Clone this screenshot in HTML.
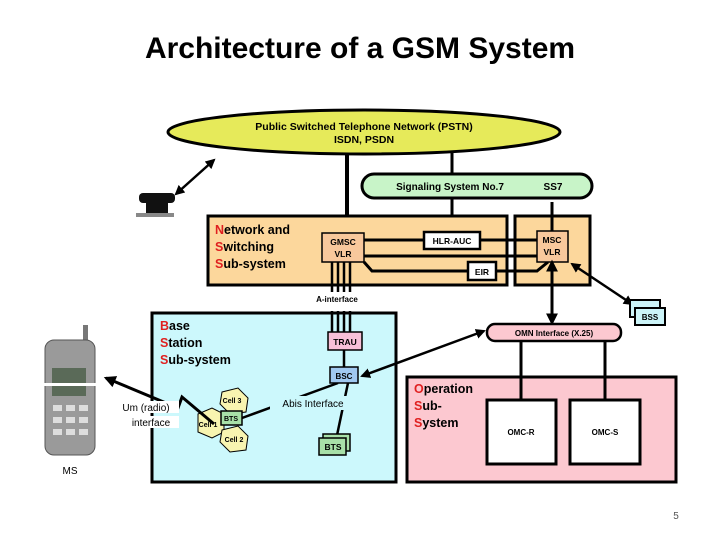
<!DOCTYPE html>
<html><head><meta charset="utf-8"><style>
html,body{margin:0;padding:0;background:#fff;}
svg{display:block;}
text{font-family:"Liberation Sans",sans-serif;font-weight:bold;}
</style></head><body>
<svg width="720" height="540" viewBox="0 0 720 540" xmlns="http://www.w3.org/2000/svg">
<defs>
<marker id="a" viewBox="0 0 10 10" refX="8" refY="5" markerWidth="4" markerHeight="4" orient="auto-start-reverse"><path d="M0,0L10,5L0,10z" fill="#000"/></marker>
</defs>
<text x="360" y="58" text-anchor="middle" font-size="30" fill="#000">Architecture of a GSM System</text>

<line x1="347" y1="150" x2="347" y2="234" stroke="#000" stroke-width="4"/>
<line x1="452" y1="150" x2="452" y2="233" stroke="#000" stroke-width="3"/>

<ellipse cx="364" cy="132" rx="196" ry="22" fill="#e6ea5a" stroke="#000" stroke-width="3"/>
<text x="364" y="130" text-anchor="middle" font-size="10.5">Public Switched Telephone Network (PSTN)</text>
<text x="364" y="143" text-anchor="middle" font-size="10.5">ISDN, PSDN</text>

<rect x="362" y="174" width="230" height="24" rx="12" fill="#c8f4c8" stroke="#000" stroke-width="3"/>
<text x="450" y="190" text-anchor="middle" font-size="10">Signaling System No.7</text>
<text x="553" y="190" text-anchor="middle" font-size="10">SS7</text>

<rect x="208" y="216" width="299" height="69" fill="#fcd79c" stroke="#000" stroke-width="3"/>
<rect x="515" y="216" width="75" height="69" fill="#fcd79c" stroke="#000" stroke-width="3"/>
<text x="215" y="234" font-size="12.5"><tspan fill="#e02020">N</tspan>etwork and</text>
<text x="215" y="251" font-size="12.5"><tspan fill="#e02020">S</tspan>witching</text>
<text x="215" y="268" font-size="12.5"><tspan fill="#e02020">S</tspan>ub-system</text>

<line x1="364" y1="240" x2="537" y2="240" stroke="#000" stroke-width="3"/>
<line x1="364" y1="256" x2="537" y2="256" stroke="#000" stroke-width="3"/>
<polyline points="364,262 372,271 537,271 548,262" fill="none" stroke="#000" stroke-width="3"/>
<line x1="552" y1="202" x2="552" y2="231" stroke="#000" stroke-width="3"/>

<rect x="322" y="233" width="42" height="29" fill="#f8c89c" stroke="#000" stroke-width="1.5"/>
<text x="343" y="245" text-anchor="middle" font-size="8.5">GMSC</text>
<text x="343" y="257" text-anchor="middle" font-size="8.5">VLR</text>
<rect x="424" y="232" width="56" height="17" fill="#fff" stroke="#000" stroke-width="2.5"/>
<text x="452" y="244" text-anchor="middle" font-size="8.5">HLR-AUC</text>
<rect x="468" y="262" width="28" height="18" fill="#fff" stroke="#000" stroke-width="2.5"/>
<text x="482" y="275" text-anchor="middle" font-size="8.5">EIR</text>
<rect x="537" y="231" width="31" height="31" fill="#f8c89c" stroke="#000" stroke-width="1.5"/>
<text x="552" y="243" text-anchor="middle" font-size="8.5">MSC</text>
<text x="552" y="255" text-anchor="middle" font-size="8.5">VLR</text>

<g stroke="#000" stroke-width="2.5">
<line x1="332" y1="262" x2="332" y2="292"/><line x1="338" y1="262" x2="338" y2="292"/>
<line x1="344" y1="262" x2="344" y2="292"/><line x1="350" y1="262" x2="350" y2="292"/>
</g>
<text x="337" y="302" text-anchor="middle" font-size="8">A-interface</text>

<line x1="552" y1="320" x2="552" y2="262" stroke="#000" stroke-width="3" marker-end="url(#a)"/>
<line x1="552" y1="300" x2="552" y2="323" stroke="#000" stroke-width="3" marker-end="url(#a)"/>
<line x1="572" y1="264" x2="632" y2="304" stroke="#000" stroke-width="2.5" marker-start="url(#a)" marker-end="url(#a)"/>
<rect x="630" y="300" width="30" height="17" fill="#ccf4f8" stroke="#000" stroke-width="2"/>
<rect x="635" y="308" width="30" height="17" fill="#ccf4f8" stroke="#000" stroke-width="2"/>
<text x="650" y="320" text-anchor="middle" font-size="8">BSS</text>

<rect x="152" y="313" width="244" height="169" fill="#ccf8fc" stroke="#000" stroke-width="3"/>
<text x="160" y="330" font-size="12.5"><tspan fill="#e02020">B</tspan>ase</text>
<text x="160" y="347" font-size="12.5"><tspan fill="#e02020">S</tspan>tation</text>
<text x="160" y="364" font-size="12.5"><tspan fill="#e02020">S</tspan>ub-system</text>
<g stroke="#000" stroke-width="2.5">
<line x1="332" y1="311" x2="332" y2="332"/><line x1="338" y1="311" x2="338" y2="332"/>
<line x1="344" y1="311" x2="344" y2="332"/><line x1="350" y1="311" x2="350" y2="332"/>
</g>
<line x1="344" y1="350" x2="344" y2="367" stroke="#000" stroke-width="2.5"/>
<rect x="328" y="332" width="34" height="18" fill="#f8c0d8" stroke="#000" stroke-width="1.5"/>
<text x="345" y="345" text-anchor="middle" font-size="8.5">TRAU</text>
<line x1="338" y1="383" x2="242" y2="418" stroke="#000" stroke-width="2.5"/>
<line x1="348" y1="383" x2="336" y2="440" stroke="#000" stroke-width="2.5"/>
<rect x="330" y="367" width="28" height="16" fill="#a0c8f0" stroke="#000" stroke-width="1.5"/>
<text x="344" y="379" text-anchor="middle" font-size="8">BSC</text>
<rect x="270" y="396" width="86" height="14" fill="#ccf8fc"/>
<text x="313" y="407" text-anchor="middle" font-size="10" style="font-weight:normal">Abis Interface</text>

<g fill="#f8f4b0" stroke="#000" stroke-width="1">
<polygon points="222,392 238,388 248,398 246,412 230,414 220,404"/>
<polygon points="198,414 212,408 224,414 224,432 212,438 198,432"/>
<polygon points="222,430 238,426 248,436 246,450 230,452 220,442"/>
</g>
<text x="232" y="403" font-size="7" text-anchor="middle">Cell 3</text>
<text x="208" y="427" font-size="7" text-anchor="middle">Cell 1</text>
<text x="234" y="442" font-size="7" text-anchor="middle">Cell 2</text>
<rect x="221" y="411" width="21" height="14" fill="#a8e0a8" stroke="#000" stroke-width="1.5"/>
<text x="231" y="421" text-anchor="middle" font-size="7">BTS</text>
<rect x="323" y="434" width="27" height="17" fill="#a8e0a8" stroke="#000" stroke-width="1.5"/>
<rect x="319" y="438" width="27" height="17" fill="#a8e0a8" stroke="#000" stroke-width="1.5"/>
<text x="333" y="450" text-anchor="middle" font-size="8.5">BTS</text>

<rect x="407" y="377" width="269" height="105" fill="#fcc8d0" stroke="#000" stroke-width="3"/>
<text x="414" y="393" font-size="12.5"><tspan fill="#e02020">O</tspan>peration</text>
<text x="414" y="410" font-size="12.5"><tspan fill="#e02020">S</tspan>ub-</text>
<text x="414" y="427" font-size="12.5"><tspan fill="#e02020">S</tspan>ystem</text>
<line x1="521" y1="340" x2="521" y2="400" stroke="#000" stroke-width="3"/>
<line x1="605" y1="340" x2="605" y2="400" stroke="#000" stroke-width="3"/>
<rect x="487" y="400" width="69" height="64" fill="#fff" stroke="#000" stroke-width="3"/>
<rect x="570" y="400" width="70" height="64" fill="#fff" stroke="#000" stroke-width="3"/>
<text x="521" y="435" text-anchor="middle" font-size="8">OMC-R</text>
<text x="605" y="435" text-anchor="middle" font-size="8">OMC-S</text>
<rect x="487" y="324" width="134" height="17" rx="8" fill="#fcc8d0" stroke="#000" stroke-width="2.5"/>
<text x="554" y="336" text-anchor="middle" font-size="8">OMN Interface (X.25)</text>
<line x1="362" y1="376" x2="484" y2="331" stroke="#000" stroke-width="2.5" marker-start="url(#a)" marker-end="url(#a)"/>

<rect x="139" y="193" width="36" height="10" rx="4" fill="#111"/>
<rect x="146" y="201" width="22" height="13" fill="#111"/>
<rect x="136" y="213" width="38" height="4" fill="#888"/>
<line x1="176" y1="194" x2="214" y2="160" stroke="#000" stroke-width="2.5" marker-start="url(#a)" marker-end="url(#a)"/>

<rect x="83" y="325" width="5" height="20" fill="#777"/>
<rect x="45" y="340" width="50" height="115" rx="9" fill="#9a9a9a" stroke="#555"/>
<rect x="52" y="368" width="34" height="28" fill="#5a6a58"/>
<rect x="40" y="383" width="60" height="3" fill="#fff"/>
<g fill="#ddd"><rect x="53" y="405" width="9" height="6"/><rect x="66" y="405" width="9" height="6"/><rect x="79" y="405" width="9" height="6"/>
<rect x="53" y="417" width="9" height="6"/><rect x="66" y="417" width="9" height="6"/><rect x="79" y="417" width="9" height="6"/>
<rect x="53" y="429" width="9" height="6"/><rect x="66" y="429" width="9" height="6"/><rect x="79" y="429" width="9" height="6"/></g>
<text x="70" y="474" text-anchor="middle" font-size="10" style="font-weight:normal">MS</text>
<polyline points="106,378 178,408 182,397 214,424" fill="none" stroke="#000" stroke-width="3" marker-start="url(#a)"/>
<rect x="116" y="401" width="63" height="12" fill="#fff"/>
<rect x="124" y="416" width="55" height="12" fill="#fff"/>
<text x="146" y="411" text-anchor="middle" font-size="10" style="font-weight:normal">Um (radio)</text>
<text x="151" y="426" text-anchor="middle" font-size="10" style="font-weight:normal">interface</text>

<text x="676" y="519" text-anchor="middle" font-size="10" style="font-weight:normal" fill="#555">5</text>
</svg>
</body></html>
